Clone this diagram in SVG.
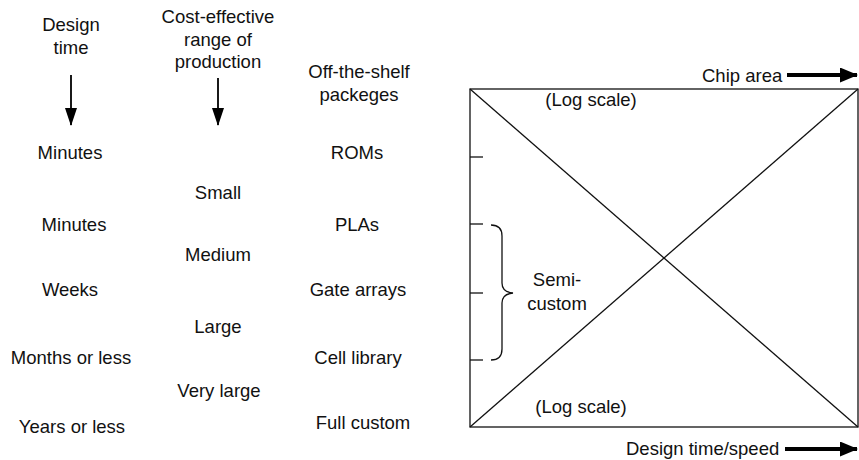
<svg xmlns="http://www.w3.org/2000/svg" width="859" height="460" viewBox="0 0 859 460">
<defs>
<marker id="ah" viewBox="0 0 18 12" refX="17" refY="6" markerWidth="18" markerHeight="12" markerUnits="userSpaceOnUse" orient="auto">
<path d="M0,0 L18,6 L0,12 z" fill="#000"/>
</marker>
<marker id="ahw" viewBox="0 0 18 15" refX="17" refY="7.5" markerWidth="18" markerHeight="15" markerUnits="userSpaceOnUse" orient="auto">
<path d="M0,0 L18,7.5 L0,15 z" fill="#000"/>
</marker>
</defs>
<style>
text{font-family:"Liberation Sans",Arial,sans-serif;font-size:18.5px;fill:#111;text-anchor:middle}
.l{stroke:#111;stroke-width:1.3;fill:none}
.ar{stroke:#000;stroke-width:1.8;fill:none}
.aw{stroke:#000;stroke-width:4;fill:none}
</style>
<rect width="859" height="460" fill="#fff"/>
<g id="col-design-time">
<text x="71" y="31">Design</text>
<text x="71" y="54">time</text>
<text x="70" y="159">Minutes</text>
<text x="74" y="231">Minutes</text>
<text x="70" y="296">Weeks</text>
<text x="71" y="364">Months or less</text>
<text x="72" y="433">Years or less</text>
</g>
<g id="col-production">
<text x="218" y="23">Cost-effective</text>
<text x="218" y="46">range of</text>
<text x="218" y="68">production</text>
<text x="218" y="199">Small</text>
<text x="218" y="261">Medium</text>
<text x="218" y="333">Large</text>
<text x="219" y="397">Very large</text>
</g>
<g id="col-technology">
<text x="359" y="78">Off-the-shelf</text>
<text x="359" y="101">packeges</text>
<text x="357" y="159">ROMs</text>
<text x="357" y="231">PLAs</text>
<text x="358" y="296">Gate arrays</text>
<text x="358" y="364">Cell library</text>
<text x="363" y="429">Full custom</text>
</g>
<g id="chart">
<rect class="l" x="470" y="89" width="388" height="338"/>
<line class="l" x1="470" y1="89" x2="858" y2="427"/>
<line class="l" x1="470" y1="427" x2="858" y2="89"/>
<line class="l" x1="470" y1="157" x2="483" y2="157"/>
<line class="l" x1="470" y1="224" x2="483" y2="224"/>
<line class="l" x1="470" y1="293" x2="483" y2="293"/>
<line class="l" x1="470" y1="360" x2="483" y2="360"/>
<path class="l" d="M491,225 Q502,225 502,236 L502,283 Q502,292 513,293 Q502,294 502,303 L502,349 Q502,360 491,360"/>
<text x="557" y="286">Semi-</text>
<text x="557" y="310">custom</text>
<text x="591" y="106">(Log scale)</text>
<text x="581" y="413">(Log scale)</text>
<text x="702" y="82" style="text-anchor:start">Chip area</text>
<text x="626" y="455" style="text-anchor:start">Design time/speed</text>
</g>
<g id="connectors">
<line class="ar" x1="71" y1="75" x2="71" y2="125" marker-end="url(#ah)"/>
<line class="ar" x1="218" y1="78" x2="218" y2="125" marker-end="url(#ah)"/>
<line class="aw" x1="787" y1="75" x2="857" y2="75" marker-end="url(#ahw)"/>
<line class="aw" x1="785" y1="449" x2="857" y2="449" marker-end="url(#ahw)"/>
</g>
</svg>
